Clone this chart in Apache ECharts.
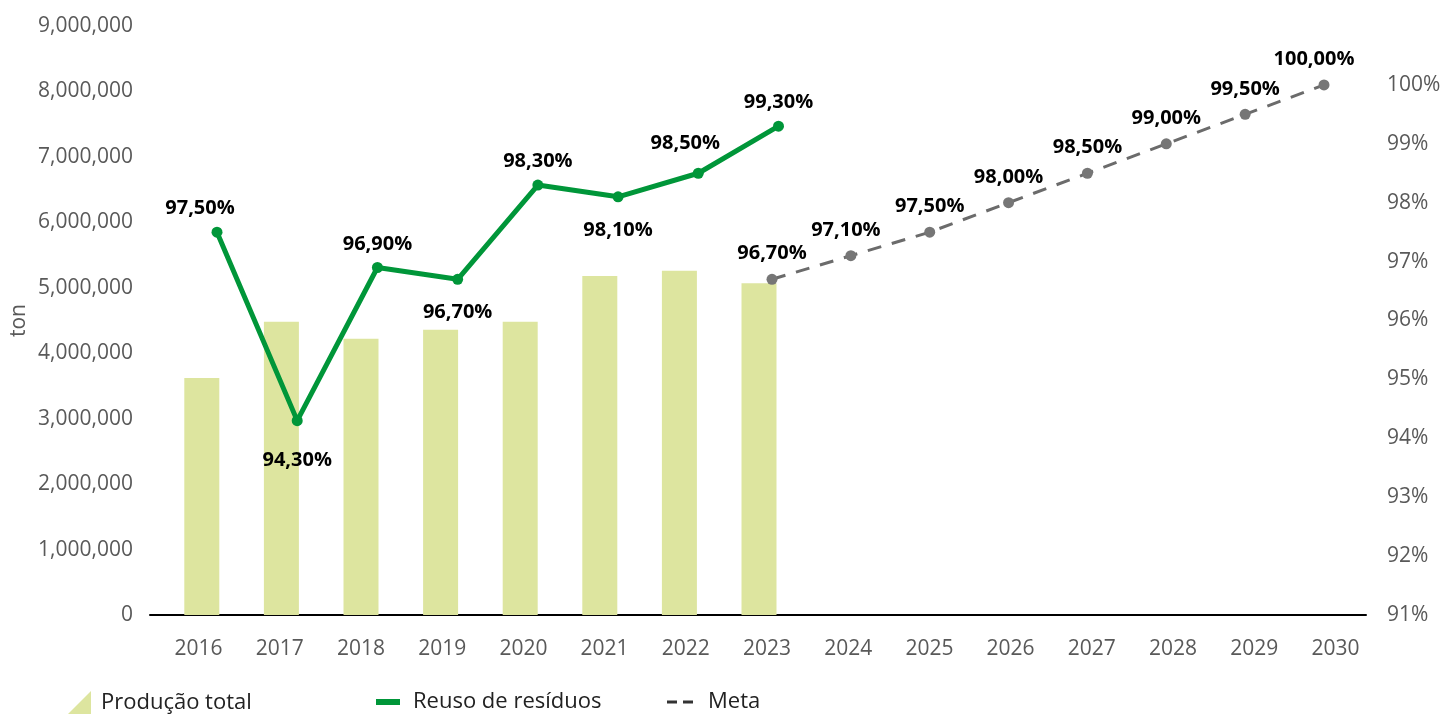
<!DOCTYPE html>
<html>
<head>
<meta charset="utf-8">
<script src="https://cdn.jsdelivr.net/npm/echarts@6/dist/echarts.min.js"></script>
<style>
  html, body { margin: 0; padding: 0; background: #fff; }
  #main { width: 1441px; height: 715px; }
</style>
</head>
<body>
<div id="main"></div>
<script>
// dados
const anos = ['2016', '2017', '2018', '2019', '2020', '2021', '2022', '2023', '2024', '2025', '2026', '2027', '2028', '2029', '2030'];
const producao = [3620000, 4480000, 4220000, 4360000, 4480000, 5180000, 5260000, 5070000];
const reuso = [97.5, 94.3, 96.9, 96.7, 98.3, 98.1, 98.5, 99.3];
const meta = [null, null, null, null, null, null, null, 96.7, 97.1, 97.5, 98.0, 98.5, 99.0, 99.5, 100.0];

// posição dos rótulos da linha verde
const reusoPos = ['top', 'bottom', 'top', 'bottom', 'top', 'bottom', 'top', 'top'];
const reusoOff = [[-17, 0], [0, 6], [0, 0], [0, 0], [0, 0], [0, 0], [-13, -6], [0, 0]];
const metaOff = [0, 0, 0, 0, 0, 0, 0, 0, -5, 0, 0, 0, 0, 0, -10];

const fonte = '"Open Sans", sans-serif';
const cinza = '#595959';
const pct = v => v.toFixed(2).replace('.', ',') + '%';

let myChart = echarts.init(document.getElementById('main'));

const gTop = 26, gBottom = 100;
const grade = (left, right) => ({ left: left, right: right, top: gTop, bottom: gBottom, outerBoundsMode: 'none' });
myChart.setOption({
    textStyle: { fontFamily: fonte },
    // grids separados porque no Excel cada série ficou num eixo um pouco diferente
    grid: [
        grade(150, 75),   // moldura / eixos
        grade(162, 85),   // barras
        grade(158, 65),   // rótulos dos anos
        grade(217, 101),  // reuso
        grade(220, 117)   // meta
    ],
    legend: [
        {
            left: 68, top: 691, padding: 0, data: [{ name: 'Produção total', icon: 'path://M24,0L24,24L0,24Z' }],
            itemWidth: 23, itemHeight: 24,
            textStyle: { fontSize: 22, color: '#222', padding: [0, 0, 0, 5] }
        },
        {
            left: 376, top: 691, padding: 0, data: [{ name: 'Reuso de resíduos', icon: 'path://M0,0h24v6h-24z' }],
            itemWidth: 24, itemHeight: 24,
            textStyle: { fontSize: 22, color: '#222', padding: [0, 0, 0, 8] }
        },
        {
            left: 667, top: 691, padding: 0, data: [{ name: 'Meta', icon: 'path://M0,0h10v3h-10z M16,0h10v3h-10z', itemStyle: { color: '#333' } }],
            itemWidth: 26, itemHeight: 24,
            textStyle: { fontSize: 22, color: '#222', padding: [0, 0, 0, 10] }
        }
    ],
    xAxis: [
        { gridIndex: 0, type: 'category', data: anos, axisLine: { lineStyle: { color: '#000', width: 2 } }, axisTick: { show: false }, axisLabel: { show: false } },
        { gridIndex: 1, type: 'category', data: anos, show: false },
        {
            gridIndex: 2, type: 'category', data: anos, axisLine: { show: false }, axisTick: { show: false },
            axisLabel: { color: cinza, fontSize: 21, margin: 24 }
        },
        { gridIndex: 3, type: 'category', data: anos, boundaryGap: false, show: false },
        { gridIndex: 4, type: 'category', data: anos, boundaryGap: false, show: false }
    ],
    yAxis: [
        {
            gridIndex: 0, type: 'value', min: 0, max: 9000000, interval: 1000000,
            name: 'ton', nameLocation: 'middle', nameGap: 120, nameMoveOverlap: false,
            nameTextStyle: { color: cinza, fontSize: 21 },
            axisLine: { show: false }, axisTick: { show: false }, splitLine: { show: false },
            axisLabel: { color: cinza, fontSize: 21, margin: 17, formatter: v => v.toLocaleString('en-US') }
        },
        {
            gridIndex: 0, type: 'value', position: 'right', min: 91, max: 101, interval: 1,
            axisLine: { show: false }, axisTick: { show: false }, splitLine: { show: false },
            axisLabel: { color: cinza, fontSize: 21, margin: 21, formatter: v => v === 101 ? '' : v + '%' }
        },
        { gridIndex: 1, type: 'value', min: 0, max: 9000000, show: false, splitLine: { show: false } },
        { gridIndex: 2, type: 'value', min: 0, max: 9000000, show: false, splitLine: { show: false } },
        { gridIndex: 3, type: 'value', min: 91, max: 101, show: false, splitLine: { show: false } },
        { gridIndex: 4, type: 'value', min: 91, max: 101, show: false, splitLine: { show: false } }
    ],
    series: [
        {
            name: 'Produção total', type: 'bar', xAxisIndex: 1, yAxisIndex: 2,
            data: producao, barWidth: 35,
            itemStyle: { color: '#dde59f' }
        },
        {
            name: 'Reuso de resíduos', type: 'line', xAxisIndex: 3, yAxisIndex: 4,
            data: reuso.map((v, i) => ({ value: v, label: { position: reusoPos[i], offset: reusoOff[i], distance: reusoPos[i] === 'top' ? 8 : 18 } })),
            symbol: 'circle', symbolSize: 11,
            lineStyle: { color: '#009639', width: 5 },
            itemStyle: { color: '#009639' },
            label: { show: true, fontSize: 20, fontWeight: 'bold', color: '#000', formatter: p => pct(p.value) },
            z: 5
        },
        {
            name: 'Meta', type: 'line', xAxisIndex: 4, yAxisIndex: 5,
            data: meta.map((v, i) => ({ value: v, label: { offset: [metaOff[i], 0] } })),
            symbol: 'circle', symbolSize: 11,
            lineStyle: { color: '#6b6b6b', width: 3, type: [14, 11] },
            itemStyle: { color: '#767676' },
            label: { show: true, position: 'top', distance: 10, fontSize: 20, fontWeight: 'bold', color: '#000', formatter: p => pct(p.value) },
            z: 4
        }
    ]
});
</script>
</body>
</html>
